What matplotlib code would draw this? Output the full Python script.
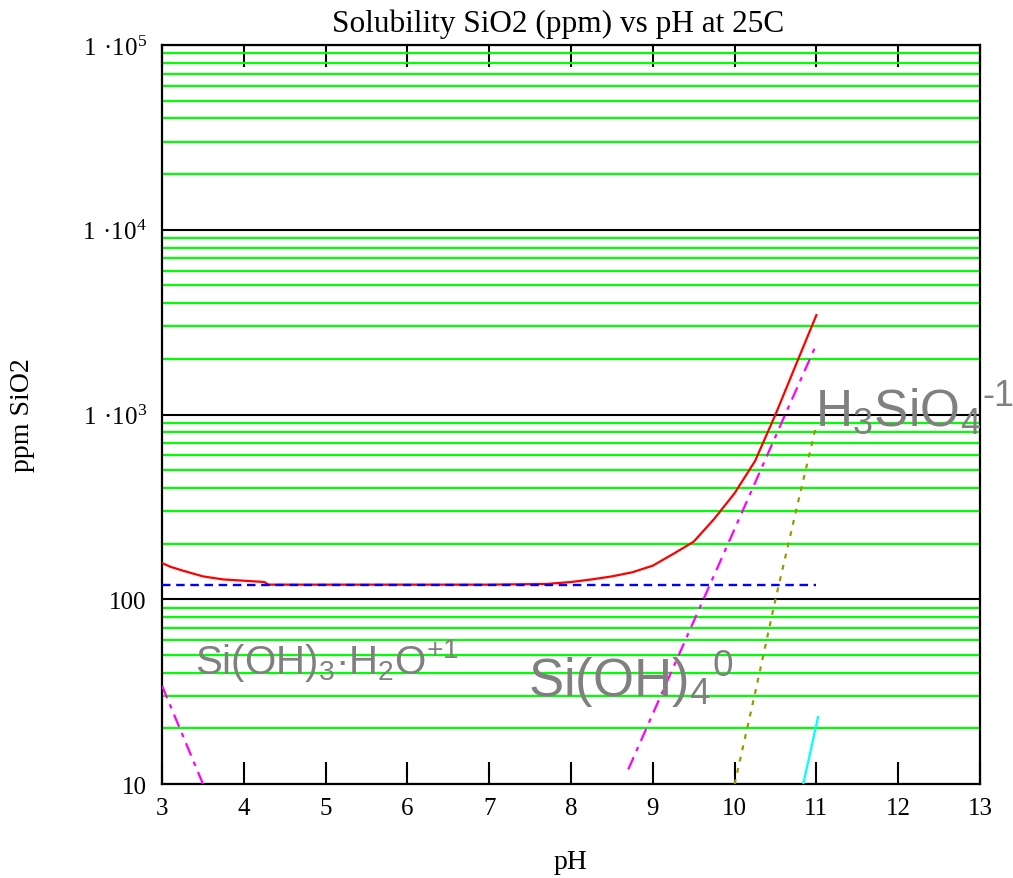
import matplotlib
matplotlib.use("Agg")
import matplotlib.pyplot as plt
from matplotlib.ticker import LogLocator, NullFormatter

# total dissolved silica (ppm SiO2) vs pH
ph_total = [3.0, 3.1, 3.25, 3.5, 3.75, 4.0, 4.25, 4.3, 5.0, 6.0, 7.0, 7.7,
            8.0, 8.25, 8.5, 8.75, 9.0, 9.25, 9.5, 9.75, 10.0, 10.25, 10.5,
            10.75, 11.0]
ppm_total = [157, 150, 143, 133, 128, 126, 124, 120, 120, 120, 120, 121,
             124, 128, 133, 140, 152, 176, 205, 272, 375, 560, 1000,
             1860, 3450]

# neutral Si(OH)4 (flat)
ph_neutral = [3.0, 11.0]
ppm_neutral = [120, 120]

# H3SiO4^-1
ph_h3sio4 = [8.7, 9.0, 9.5, 10.0, 10.5, 11.0]
ppm_h3sio4 = [12, 24, 76, 240, 760, 2400]

# H2SiO4^-2
ph_h2sio4 = [10.0, 10.25, 10.5, 10.75, 11.0]
ppm_h2sio4 = [10, 31, 100, 300, 880]

# HSiO4^-3
ph_hsio4 = [10.84, 11.02]
ppm_hsio4 = [10, 23]

# Si(OH)3.H2O^+1 at low pH
ph_cation = [3.0, 3.5]
ppm_cation = [34, 10]

xticks = list(range(3, 14))
yticks = [10, 100, 1e3, 1e4, 1e5]
ytick_labels = ["10", "100",
                r"$\mathregular{1\ ·10^{3}}$",
                r"$\mathregular{1\ ·10^{4}}$",
                r"$\mathregular{1\ ·10^{5}}$"]

serif = "Liberation Serif"
sans = "Liberation Sans"
gray = "#808080"

fig = plt.figure(figsize=(10.13, 8.79), dpi=100)
ax = fig.add_axes([0.160, 0.1069, 0.8074, 0.8408])

ax.plot(ph_total, ppm_total, color="#ff0000", lw=1.6, zorder=3)
ax.plot(ph_neutral, ppm_neutral, color="#0000ff", lw=1.7,
        dashes=(3.6, 2.4), zorder=4)
ax.plot(ph_h3sio4, ppm_h3sio4, color="#ff00ff", lw=1.6,
        dashes=(6, 3, 2, 3), zorder=3)
ax.plot(ph_h2sio4, ppm_h2sio4, color="#999900", lw=1.6,
        dashes=(2.2, 3.0), zorder=3)
ax.plot(ph_hsio4, ppm_hsio4, color="#00ffff", lw=1.6, zorder=3)
ax.plot(ph_cation, ppm_cation, color="#ff00ff", lw=1.6,
        dashes=(6, 3, 2, 3), zorder=3)

ax.set_yscale("log")
ax.set_xlim(3, 13)
ax.set_ylim(10, 1e5)

ax.set_xticks(xticks)
ax.set_xticklabels([str(t) for t in xticks], fontfamily=serif, fontsize=18)
ax.set_yticks(yticks)
ax.set_yticklabels(ytick_labels, fontfamily=serif, fontsize=18)
ax.yaxis.set_minor_locator(LogLocator(base=10, subs=range(2, 10), numticks=20))
ax.yaxis.set_minor_formatter(NullFormatter())

ax.tick_params(axis="x", which="major", direction="in", top=True,
               length=16, width=1.5, pad=9, colors="black")
ax.tick_params(axis="y", which="both", length=0, pad=11)

ax.set_axisbelow(True)
ax.grid(True, axis="y", which="major", color="black", lw=1.5)
ax.grid(True, axis="y", which="minor", color="#00ff00", lw=1.6)
for sp in ax.spines.values():
    sp.set_linewidth(1.6)
    sp.set_color("black")

ax.set_xlabel("pH", fontfamily=serif, fontsize=20, labelpad=22)
ax.set_ylabel("ppm SiO2", fontfamily=serif, fontsize=20)
ax.yaxis.set_label_coords(-0.155, 0.5)

fig.text(0.551, 0.972, "Solubility SiO2 (ppm) vs pH at 25C",
         fontfamily=serif, fontsize=22.5, ha="center", va="center")

# species labels
ax.text(3.4, 40, r"$\mathregular{Si(OH)_3·H_2O^{+1}}$", color=gray,
        fontfamily=sans, fontsize=29, zorder=5)
ax.text(7.48, 30, r"$\mathregular{Si(OH)_4{}^0}$", color=gray,
        fontfamily=sans, fontsize=38, zorder=5)
ax.text(10.98, 870, r"$\mathregular{H_3SiO_4{}^{‐1}}$", color=gray,
        fontfamily=sans, fontsize=37, zorder=5, clip_on=False)

fig.savefig("out.png", dpi=100)
